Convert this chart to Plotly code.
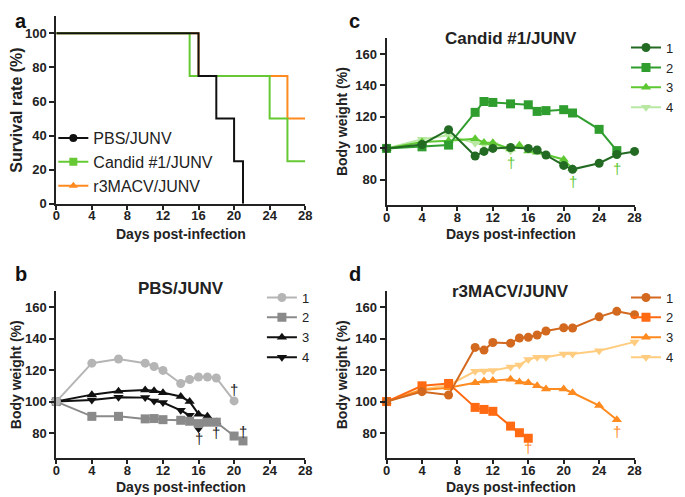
import plotly.graph_objects as go

FONT = "Liberation Sans, Arial, sans-serif"

# ---- panel a: survival (Kaplan-Meier steps)
surv_pbs_x = [0, 16, 18, 20, 21]
surv_pbs_y = [100, 75, 50, 25, 0]
surv_candid_x = [0, 15, 24, 26, 28]
surv_candid_y = [100, 75, 50, 25, 25]
surv_r3_x = [0, 16, 26, 28]
surv_r3_y = [100, 75, 50, 50]

# ---- panel b: PBS/JUNV body weight
b1_x = [0, 4, 7, 10, 11, 12, 14, 15, 16, 17, 18, 20]
b1_y = [100, 124.4, 127, 124.4, 122.3, 119.8, 111.5, 114, 115.6, 115.6, 115, 100.4]
b2_x = [0, 4, 7, 10, 11, 12, 14, 15, 16, 17, 18, 20, 21]
b2_y = [100, 90.6, 90.6, 89, 89.2, 88.5, 88.1, 87.5, 86, 86.9, 86.9, 78.1, 75]
b3_x = [0, 4, 7, 10, 11, 12, 14, 15, 16, 17, 18]
b3_y = [100, 104.4, 106.5, 107.3, 106.8, 105.6, 103.2, 100, 92, 90.6, 87]
b4_x = [0, 4, 7, 10, 11, 12, 14, 15, 16]
b4_y = [100, 101, 102.7, 102.5, 100.4, 99.4, 94.4, 91.3, 82.7]

# ---- panel c: Candid #1/JUNV body weight
c1_x = [0, 4, 7, 10, 11, 12, 14, 16, 17, 18, 20, 21, 24, 26, 28]
c1_y = [100, 102.5, 111.9, 95.2, 98.1, 100, 100.6, 100, 99, 95.8, 89.2, 86.7, 90.6, 96.1, 98.1]
c2_x = [0, 4, 7, 10, 11, 12, 14, 16, 17, 18, 20, 21, 24, 26]
c2_y = [100, 101, 102.1, 122.9, 129.8, 129.2, 128.3, 127.7, 123.5, 124, 124.6, 122.5, 112.1, 98.6]
c3_x = [0, 4, 7, 10, 11, 12, 14, 15, 16, 17, 20, 21]
c3_y = [100, 104, 104.8, 106.2, 103.8, 103.6, 99.6, 102, 98.3, 97.5, 93, 87]
c4_x = [0, 4, 7, 10, 11, 12, 14]
c4_y = [100, 105.8, 108.3, 103.3, 102.5, 102.3, 98.5]

# ---- panel d: r3MACV/JUNV body weight
d1_x = [0, 4, 7, 10, 11, 12, 14, 15, 16, 17, 18, 20, 21, 24, 26, 28]
d1_y = [100, 106.3, 104.2, 134.4, 132.7, 137.5, 137.1, 140.4, 140.8, 142.3, 144.8, 146.9, 146.7, 153.8, 157.3, 155.2]
d2_x = [0, 4, 7, 10, 11, 12, 14, 15, 16]
d2_y = [100, 110, 111.5, 96.3, 95, 93.8, 84.4, 80.2, 76.7]
d3_x = [0, 4, 7, 10, 11, 12, 14, 15, 16, 17, 18, 20, 21, 24, 26]
d3_y = [100, 107.3, 108.8, 112, 113, 113.3, 114.2, 112.5, 112, 110, 108, 108, 105.6, 97.5, 88.5]
d4_x = [0, 4, 7, 10, 11, 12, 14, 15, 16, 17, 18, 20, 21, 24, 28]
d4_y = [100, 107.9, 110.4, 119.2, 119.4, 119.8, 121.9, 123.3, 126.7, 128.1, 128.1, 130.2, 130.2, 132.3, 137.9]

mouse_names = ["1", "2", "3", "4"]
symbols = ["circle", "square", "triangle-up", "triangle-down"]
x_ticks = list(range(0, 29, 4))
surv_ticks = [0, 20, 40, 60, 80, 100]
bw_ticks = [80, 100, 120, 140, 160]

# daggers: (panel, day, y position, colour)
daggers = [
    ("b", 20, 107.5, "#222222"), ("b", 21, 81, "#222222"),
    ("b", 16, 76.5, "#222222"), ("b", 18, 80.5, "#222222"),
    ("c", 14, 91, "#5ec832"), ("c", 21, 79, "#5ec832"), ("c", 26, 87, "#5ec832"),
    ("d", 16, 71, "#ff8a1f"), ("d", 26, 81, "#ff8a1f"),
]

W, H = 685, 497


def px_x(a, b):
    return [a / W, b / W]


def px_y(top, bottom):
    return [1 - bottom / H, 1 - top / H]


def bold(vals):
    return ["<b>%d</b>" % v for v in vals]


fig = go.Figure()

# panel a step lines (drawn under -> over)
fig.add_trace(go.Scatter(x=surv_r3_x, y=surv_r3_y, mode="lines", line=dict(color="#ff8a1f", width=2, shape="hv"),
                         showlegend=False, xaxis="x", yaxis="y"))
fig.add_trace(go.Scatter(x=surv_candid_x, y=surv_candid_y, mode="lines", line=dict(color="#66c933", width=2, shape="hv"),
                         showlegend=False, xaxis="x", yaxis="y"))
fig.add_trace(go.Scatter(x=surv_pbs_x, y=surv_pbs_y, mode="lines", line=dict(color="#111111", width=2, shape="hv"),
                         showlegend=False, xaxis="x", yaxis="y"))
# legend entries for panel a
for name, col, sym in [("PBS/JUNV", "#111111", "circle"), ("Candid #1/JUNV", "#66c933", "square"),
                       ("r3MACV/JUNV", "#ff8a1f", "triangle-up")]:
    fig.add_trace(go.Scatter(x=[None], y=[None], mode="lines+markers", name=name,
                             line=dict(color=col, width=2), marker=dict(symbol=sym, size=8, color=col),
                             xaxis="x", yaxis="y", legend="legend"))

panels = [
    ("b", "x2", "y2", "legend2", [(b1_x, b1_y), (b2_x, b2_y), (b3_x, b3_y), (b4_x, b4_y)],
     ["#b5b5b5", "#8a8a8a", "#111111", "#111111"]),
    ("c", "x3", "y3", "legend3", [(c1_x, c1_y), (c2_x, c2_y), (c3_x, c3_y), (c4_x, c4_y)],
     ["#236b23", "#2f9e2f", "#5ec832", "#b9e8a3"]),
    ("d", "x4", "y4", "legend4", [(d1_x, d1_y), (d2_x, d2_y), (d3_x, d3_y), (d4_x, d4_y)],
     ["#d2691e", "#ff6a13", "#ff8a1f", "#ffcc80"]),
]

for key, xa, ya, lg, series, cols in panels:
    for i in range(3, -1, -1):
        xs, ys = series[i]
        fig.add_trace(go.Scatter(x=xs, y=ys, mode="lines+markers", name=mouse_names[i],
                                 line=dict(color=cols[i], width=2),
                                 marker=dict(symbol=symbols[i], size=9, color=cols[i]),
                                 cliponaxis=False, xaxis=xa, yaxis=ya, legend=lg, legendrank=i + 1))

axis_common = dict(showline=True, linecolor="#222222", linewidth=2, ticks="outside", ticklen=5,
                   tickwidth=2, tickcolor="#222222", showgrid=False, zeroline=False,
                   tickfont=dict(family=FONT, size=13, color="#222222"))
xcommon = dict(axis_common, range=[0, 28], tickvals=x_ticks, ticktext=bold(x_ticks),
               ticklen=4, ticklabelstandoff=-5)
bw_title = dict(text="<b>Body weight (%)</b>", font=dict(family=FONT, size=14), standoff=4)

legend_small = dict(xanchor="left", yanchor="top", bgcolor="rgba(0,0,0,0)",
                    font=dict(family=FONT, size=13, color="#222222"), itemwidth=30, traceorder="normal")

fig.update_layout(
    width=W, height=H, margin=dict(l=0, r=0, t=0, b=0),
    paper_bgcolor="white", plot_bgcolor="white",
    font=dict(family=FONT, color="#222222"),
    xaxis=dict(xcommon, domain=px_x(45, 298), anchor="y"),
    yaxis=dict(axis_common, domain=px_y(8.4, 199), range=[0, 110], tickvals=surv_ticks,
               ticktext=bold(surv_ticks), anchor="x",
               title=dict(text="<b>Survival rate (%)</b>", font=dict(family=FONT, size=16), standoff=2)),
    xaxis2=dict(xcommon, domain=px_x(45, 298), anchor="y2"),
    yaxis2=dict(axis_common, domain=px_y(288, 457.6), range=[64, 170], tickvals=bw_ticks,
                ticktext=bold(bw_ticks), anchor="x2", title=bw_title),
    xaxis3=dict(xcommon, domain=px_x(380.7, 632.7), anchor="y3"),
    yaxis3=dict(axis_common, domain=px_y(30.7, 200.3), range=[64, 170], tickvals=bw_ticks,
                ticktext=bold(bw_ticks), anchor="x3", title=bw_title),
    xaxis4=dict(xcommon, domain=px_x(380.7, 632.7), anchor="y4"),
    yaxis4=dict(axis_common, domain=px_y(288, 457.6), range=[64, 170], tickvals=bw_ticks,
                ticktext=bold(bw_ticks), anchor="x4", title=bw_title),
    legend=dict(x=42 / W, y=1 - 115 / H, xanchor="left", yanchor="top", bgcolor="rgba(0,0,0,0)",
                font=dict(family=FONT, size=16, color="#222222"), itemwidth=30, tracegroupgap=0),
    legend2=dict(legend_small, x=254 / W, y=1 - 279 / H),
    legend3=dict(legend_small, x=624 / W, y=1 - 25 / H),
    legend4=dict(legend_small, x=624 / W, y=1 - 279 / H),
)

ann = []
for letter, x, y in [("a", 1, 0), ("b", 1, 257), ("c", 340, 0), ("d", 340, 257)]:
    ann.append(dict(text="<b>%s</b>" % letter, x=x / W, y=1 - y / H, xref="paper", yref="paper",
                    xanchor="left", yanchor="top", showarrow=False,
                    font=dict(family=FONT, size=20, color="#111111")))
for title, cx, cy in [("PBS/JUNV", 171.5, 285), ("Candid #1/JUNV", 506.7, 31), ("r3MACV/JUNV", 506.7, 288)]:
    ann.append(dict(text="<b>%s</b>" % title, x=cx / W, y=1 - cy / H, xref="paper", yref="paper",
                    xanchor="center", yanchor="middle", showarrow=False,
                    font=dict(family=FONT, size=17, color="#222222")))
# x axis titles placed directly so the bottom row fits in the page
for cx, bottom in [(171.5, 240), (506.7, 240), (171.5, 497), (506.7, 497)]:
    ann.append(dict(text="<b>Days post-infection</b>", x=cx / W, y=1 - bottom / H, xref="paper", yref="paper",
                    xanchor="center", yanchor="bottom", showarrow=False,
                    font=dict(family=FONT, size=14, color="#222222")))
axmap = {"b": ("x2", "y2"), "c": ("x3", "y3"), "d": ("x4", "y4")}
for p, dx, dy, col in daggers:
    xr, yr = axmap[p]
    ann.append(dict(text="†", x=dx, y=dy, xref=xr, yref=yr, showarrow=False,
                    font=dict(family=FONT, size=15, color=col)))
fig.update_layout(annotations=ann)

fig.write_html("out.html")
